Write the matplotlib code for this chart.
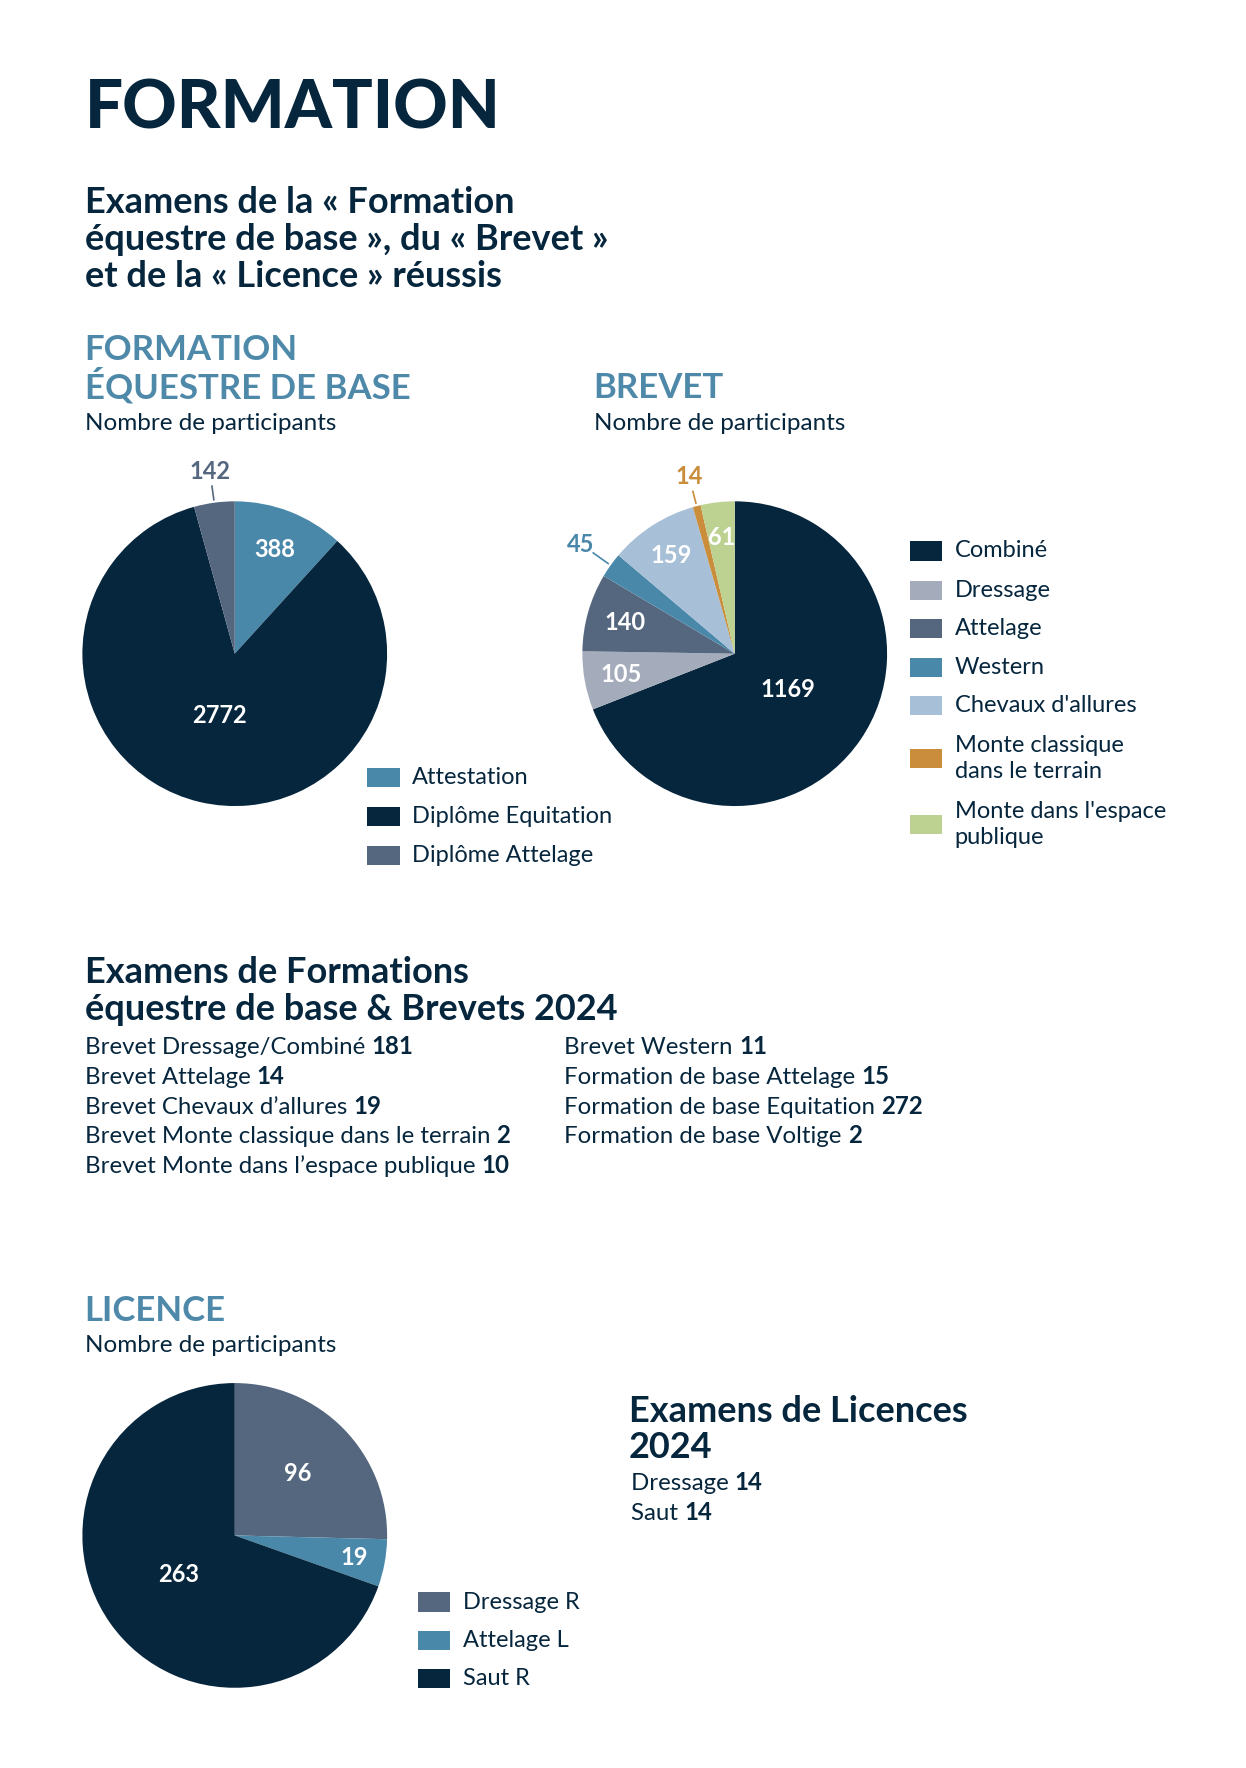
import numpy as np
import matplotlib
matplotlib.use("Agg")
import matplotlib.pyplot as plt

plt.rcParams['font.family'] = ['Lato', 'DejaVu Sans']

# ---- data ----
base_labels = ['Attestation', 'Diplôme Equitation', 'Diplôme Attelage']
base_values = [388, 2772, 142]

brevet_labels = ['Combiné', 'Dressage', 'Attelage', 'Western', "Chevaux d'allures",
                 'Monte classique\ndans le terrain', "Monte dans l'espace\npublique"]
brevet_values = [1169, 105, 140, 45, 159, 14, 61]

licence_labels = ['Dressage R', 'Attelage L', 'Saut R']
licence_values = [96, 19, 263]

list_left = [('Brevet Dressage/Combiné', '181'), ('Brevet Attelage', '14'),
             ('Brevet Chevaux d’allures', '19'),
             ('Brevet Monte classique dans le terrain', '2'),
             ('Brevet Monte dans l’espace publique', '10')]
list_right = [('Brevet Western', '11'), ('Formation de base Attelage', '15'),
              ('Formation de base Equitation', '272'), ('Formation de base Voltige', '2')]
licence_list = [('Dressage', '14'), ('Saut', '14')]

# ---- style ----
NAVY = '#06263d'
BLUE = '#4a88aa'
SLATE = '#55677f'
GREY = '#a4acbb'
LIGHT = '#a8bfd8'
ORANGE = '#c98d3b'
GREEN = '#bdd191'
HEAD = '#4f89aa'

W, H = 1104, 1566  # layout units
fig = plt.figure(figsize=(12.46, 17.68), dpi=100)
bg = fig.add_axes([0, 0, 1, 1])
bg.set_xlim(0, W)
bg.set_ylim(H, 0)
bg.axis('off')


def txt(x, y, s, size, weight='normal', color=NAVY, **kw):
    return bg.text(x, y, s, fontsize=size, fontweight=weight, color=color,
                   va='center', ha='left', **kw)


def mixed(x, y, a, b, size):
    t = txt(x, y, a + ' ', size)
    bg.annotate(b, xy=(1, 0), xycoords=t, va='bottom', ha='left',
                fontsize=size, fontweight='bold', color=NAVY)


def pie(cx, cy, r, values, colors, fracs, lab_colors):
    ax = fig.add_axes([(cx - r) / W, 1 - (cy + r) / H, 2 * r / W, 2 * r / H])
    wedges, _ = ax.pie(values, colors=colors, startangle=90, counterclock=False,
                       radius=1, wedgeprops=dict(linewidth=0))
    ax.set_xlim(-1, 1)
    ax.set_ylim(-1, 1)
    ax.axis('off')
    for i, (w, v) in enumerate(zip(wedges, values)):
        th = np.deg2rad((w.theta1 + w.theta2) / 2)
        f = fracs[i]
        ax.text(f * np.cos(th), f * np.sin(th), str(v), ha='center', va='center',
                fontsize=17, fontweight='bold', color=lab_colors[i], clip_on=False)
        if f > 1:
            ax.plot([1.02 * np.cos(th), (f - 0.1) * np.cos(th)],
                    [1.02 * np.sin(th), (f - 0.1) * np.sin(th)],
                    color=lab_colors[i], lw=1.2, clip_on=False)
    return ax


def legend(x, ys, labels, colors):
    for y, lab, c in zip(ys, labels, colors):
        bg.add_patch(plt.Rectangle((x, y - 8.5), 29, 17, color=c, lw=0))
        txt(x + 40, y, lab, 17, linespacing=1.28)


# ---- titles ----
txt(75, 97, 'FORMATION', 48.5, weight='black')
txt(75, 212, 'Examens de la « Formation\néquestre de base », du « Brevet »\n'
    'et de la « Licence » réussis', 26, weight='bold', linespacing=1.16)

txt(75, 327, 'FORMATION\nÉQUESTRE DE BASE', 25, weight='bold', color=HEAD, linespacing=1.08)
txt(75, 375, 'Nombre de participants', 17.5)
txt(526, 344, 'BREVET', 25, weight='bold', color=HEAD)
txt(526, 375, 'Nombre de participants', 17.5)

# ---- pies ----
pie(208, 579, 135, base_values, [BLUE, NAVY, SLATE], [0.73, 0.42, 1.21],
    ['white', 'white', SLATE])
legend(325, [689, 723, 758], base_labels, [BLUE, NAVY, SLATE])

brevet_colors = [NAVY, GREY, SLATE, BLUE, LIGHT, ORANGE, GREEN]
pie(651, 579, 135, brevet_values, brevet_colors,
    [0.42, 0.76, 0.75, 1.24, 0.77, 1.2, 0.77],
    ['white', 'white', 'white', BLUE, 'white', ORANGE, 'white'])
legend(806, [488, 523, 557, 591, 625, 672, 730], brevet_labels, brevet_colors)

# ---- exam list ----
txt(75, 878, 'Examens de Formations\néquestre de base & Brevets 2024', 26,
    weight='bold', linespacing=1.13)
for i, (a, b) in enumerate(list_left):
    mixed(75, 928 + i * 26.3, a, b, 17.3)
for i, (a, b) in enumerate(list_right):
    mixed(500, 928 + i * 26.3, a, b, 17.3)

# ---- licence ----
txt(75, 1161, 'LICENCE', 25, weight='bold', color=HEAD)
txt(75, 1192, 'Nombre de participants', 17.5)
pie(208, 1360, 135, licence_values, [SLATE, BLUE, NAVY], [0.58, 0.8, 0.45],
    ['white', 'white', 'white'])
legend(370, [1419, 1453, 1487], licence_labels, [SLATE, BLUE, NAVY])

txt(557, 1266, 'Examens de Licences\n2024', 26, weight='bold', linespacing=1.13)
for i, (a, b) in enumerate(licence_list):
    mixed(559, 1314 + i * 26.3, a, b, 17.3)

fig.savefig('out.png', dpi=100, facecolor='white')
